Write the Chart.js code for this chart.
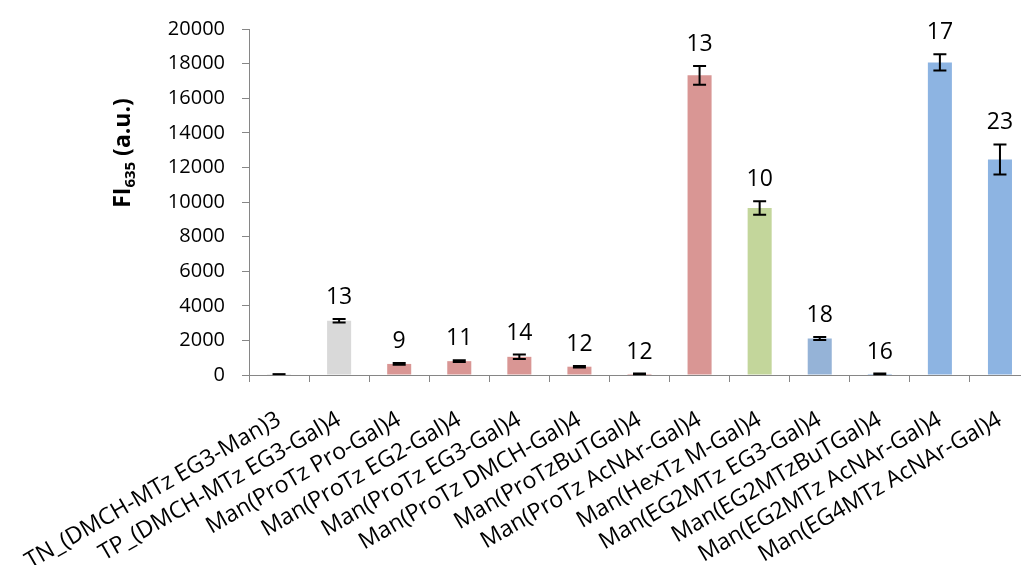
<!DOCTYPE html>
<html>
<head>
<meta charset="utf-8">
<script src="https://cdn.jsdelivr.net/npm/chart.js@4.4.0/dist/chart.umd.min.js"></script>
<style>
html,body{margin:0;padding:0;background:#fff;overflow:hidden;width:1021px;height:565px;}
#wrap{position:absolute;left:0;top:0;width:1040px;height:565px;}
</style>
</head>
<body>
<div id="wrap"><canvas id="c" width="1040" height="565"></canvas></div>
<script>
const categories = [
  "TN_(DMCH-MTz EG3-Man)3",
  "TP_(DMCH-MTz EG3-Gal)4",
  "Man(ProTz Pro-Gal)4",
  "Man(ProTz EG2-Gal)4",
  "Man(ProTz EG3-Gal)4",
  "Man(ProTz DMCH-Gal)4",
  "Man(ProTzBuTGal)4",
  "Man(ProTz AcNAr-Gal)4",
  "Man(HexTz M-Gal)4",
  "Man(EG2MTz EG3-Gal)4",
  "Man(EG2MTzBuTGal)4",
  "Man(EG2MTz AcNAr-Gal)4",
  "Man(EG4MTz AcNAr-Gal)4"
];
const values = [50, 3130, 640, 800, 1050, 480, 60, 17320, 9660, 2110, 60, 18070, 12460];
const errors = [0, 100, 50, 50, 130, 40, 20, 540, 390, 80, 20, 470, 870];
const nLabels = [null, "13", "9", "11", "14", "12", "12", "13", "10", "18", "16", "17", "23"];
const yTicks = [0, 2000, 4000, 6000, 8000, 10000, 12000, 14000, 16000, 18000, 20000];

const barColors = ["#D9D9D9", "#D9D9D9", "#D99694", "#D99694", "#D99694", "#D99694", "#D99694",
  "#D99694", "#C3D69B", "#95B3D7", "#8DB4E2", "#8DB4E2", "#8DB4E2"];

const FONT = "'Open Sans', sans-serif";

const extrasPlugin = {
  id: 'extras',
  afterDatasetsDraw(chart) {
    const ctx = chart.ctx;
    const meta = chart.getDatasetMeta(0);
    const ys = chart.scales.y;
    ctx.save();
    meta.data.forEach((bar, i) => {
      const x = bar.x;
      const v = values[i], e = errors[i];
      const yTop = ys.getPixelForValue(v + e);
      const yBot = ys.getPixelForValue(v - e);
      ctx.strokeStyle = '#000';
      ctx.lineWidth = 2;
      ctx.beginPath();
      if (e > 0) {
        ctx.moveTo(x, yTop); ctx.lineTo(x, yBot);
        ctx.moveTo(x - 6.5, yBot); ctx.lineTo(x + 6.5, yBot);
      }
      ctx.moveTo(x - 6.5, yTop); ctx.lineTo(x + 6.5, yTop);
      ctx.stroke();
      if (nLabels[i]) {
        ctx.fillStyle = '#000';
        ctx.font = "23px " + FONT;
        ctx.textAlign = 'center';
        ctx.textBaseline = 'alphabetic';
        ctx.fillText(nLabels[i], x, yTop - 15);
      }
    });
    ctx.restore();
  },
  afterDraw(chart) {
    const ctx = chart.ctx;
    ctx.save();
    ctx.fillStyle = '#000';
    ctx.translate(130, 153);
    ctx.rotate(-Math.PI / 2);
    ctx.textBaseline = 'alphabetic';
    ctx.textAlign = 'left';
    const big = "bold 23px " + FONT, small = "bold 15px " + FONT;
    ctx.font = big; const w1 = ctx.measureText("FI").width;
    ctx.font = small; const w2 = ctx.measureText("635").width;
    ctx.font = big; const w3 = ctx.measureText(" (a.u.)").width;
    let x0 = -(w1 + w2 + w3) / 2;
    ctx.font = big; ctx.fillText("FI", x0, 0); x0 += w1;
    ctx.font = small; ctx.fillText("635", x0, 5); x0 += w2;
    ctx.font = big; ctx.fillText(" (a.u.)", x0, 0);
    ctx.restore();
  }
};

new Chart(document.getElementById('c'), {
  type: 'bar',
  data: {
    labels: categories,
    datasets: [{
      data: values,
      backgroundColor: barColors,
      borderWidth: 0,
      categoryPercentage: 1,
      barPercentage: 0.4
    }]
  },
  options: {
    responsive: false,
    animation: false,
    devicePixelRatio: 1,
    layout: { padding: { top: 25, right: 10, left: 0, bottom: 0 } },
    plugins: { legend: { display: false }, tooltip: { enabled: false } },
    scales: {
      x: {
        offset: true,
        grid: { offset: true, drawOnChartArea: false, drawTicks: true, tickLength: 7, color: '#868686' },
        border: { color: '#868686', width: 1 },
        ticks: {
          autoSkip: false, maxRotation: 30, minRotation: 30, padding: 24,
          color: '#000', font: { family: FONT, size: 23 }
        },
        afterFit(s) { s.height = 190; s.paddingLeft = 0; s.paddingRight = 0; }
      },
      y: {
        min: 0, max: 20000,
        afterBuildTicks(s) { s.ticks = yTicks.map(v => ({ value: v })); },
        grid: { drawOnChartArea: false, drawTicks: true, tickLength: 7, color: '#868686' },
        border: { color: '#868686', width: 1 },
        ticks: {
          padding: 17, color: '#000', font: { family: FONT, size: 20 },
          callback: (v) => String(v)
        },
        afterFit(s) { s.width = 249; }
      }
    }
  },
  plugins: [extrasPlugin]
});
</script>
</body>
</html>
